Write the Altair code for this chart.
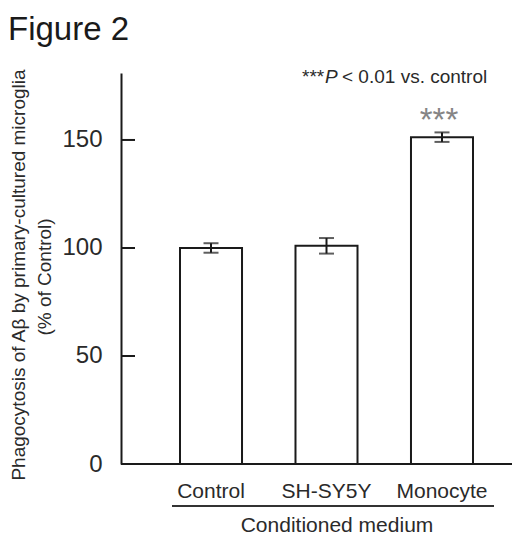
import altair as alt
import pandas as pd

# ---- data ----
categories = ["Control", "SH-SY5Y", "Monocyte"]
means = [100.0, 101.0, 151.3]
errors = [2.2, 3.6, 2.2]
y_ticks = [0, 50, 100, 150]
sig_labels = ["", "", "***"]

fig_title = "Figure 2"
y_title_1 = "Phagocytosis of A\u03b2 by primary-cultured microglia"
y_title_2 = "(% of Control)"
group_label = "Conditioned medium"
note_stars = "***"
note_p = "P"
note_rest = "< 0.01 vs. control"

FONT = "Liberation Sans"
INK = "#1a1a1a"
TXT = "#2a2a2a"

df = pd.DataFrame({
    "cat": categories,
    "mean": means,
    "lo": [m - e for m, e in zip(means, errors)],
    "hi": [m + e for m, e in zip(means, errors)],
    "sig": sig_labels,
})

W, H = 391, 391
xscale = alt.Scale(domain=categories, range=[59, 352], paddingInner=0.463, paddingOuter=0)
yscale = alt.Scale(domain=[0, 181], nice=False, zero=True)

base = alt.Chart(df)

bars = base.mark_bar(fill="white", stroke=INK, strokeWidth=2).encode(
    x=alt.X("cat:N", scale=xscale, sort=categories,
            axis=alt.Axis(title=None, labelAngle=0, ticks=False, tickSize=0,
                          labelFontSize=21, labelColor=TXT, labelPadding=16,
                          domain=False, labelFont=FONT)),
    y=alt.Y("mean:Q", scale=yscale,
            axis=alt.Axis(title=None, values=y_ticks, ticks=False, tickSize=0,
                          grid=False, labelFontSize=24, labelColor=TXT,
                          labelPadding=19, domainColor=INK, domainWidth=2,
                          labelFont=FONT)),
)

baseline = alt.Chart(pd.DataFrame({"z": [0]})).mark_rule(color=INK, strokeWidth=2).encode(
    x=alt.value(0), x2=alt.value(W),
    y=alt.Y("z:Q", scale=yscale),
)

err = base.mark_rule(color=INK, strokeWidth=2).encode(
    x=alt.X("cat:N", scale=xscale, sort=categories),
    y=alt.Y("lo:Q", scale=yscale),
    y2="hi:Q",
)
cap_lo = base.mark_tick(color=INK, size=15, thickness=2).encode(
    x=alt.X("cat:N", scale=xscale, sort=categories),
    y=alt.Y("lo:Q", scale=yscale),
)
cap_hi = base.mark_tick(color=INK, size=15, thickness=2).encode(
    x=alt.X("cat:N", scale=xscale, sort=categories),
    y=alt.Y("hi:Q", scale=yscale),
)
stars = base.mark_text(font=FONT, fontSize=33, color="#858585",
                       baseline="alphabetic", dy=-1, dx=-3).encode(
    x=alt.X("cat:N", scale=xscale, sort=categories),
    y=alt.Y("hi:Q", scale=yscale),
    text="sig:N",
)

ticks = alt.Chart(pd.DataFrame({"t": y_ticks})).mark_rule(color=INK, strokeWidth=2).encode(
    x=alt.value(0), x2=alt.value(14),
    y=alt.Y("t:Q", scale=yscale),
)

underline = alt.Chart(pd.DataFrame({"a": [0]})).mark_rule(color="#333333", strokeWidth=2).encode(
    x=alt.value(51), x2=alt.value(373), y=alt.value(433),
)


def label(txt, x, y, size, align="left", angle=0, style="normal", color=TXT, baseline="alphabetic"):
    return alt.Chart(pd.DataFrame({"t": [txt]})).mark_text(
        font=FONT, fontSize=size, align=align, angle=angle, fontStyle=style,
        color=color, baseline=baseline,
    ).encode(text="t:N", x=alt.value(x), y=alt.value(y))


texts = [
    label(fig_title, -113, -33, 33, color="#1a1a1a"),
    label(y_title_1, -96, 202, 19, align="center", angle=270),
    label(y_title_2, -70, 204, 19, align="center", angle=270),
    label(group_label, 216, 459, 21, align="center"),
    label(note_stars, 181, 10, 19),
    label(note_p, 204, 10, 19, style="italic"),
    label(note_rest, 221, 10, 19),
]

chart = alt.layer(bars, baseline, err, cap_lo, cap_hi, stars, ticks, underline, *texts).properties(
    width=W, height=H,
    autosize=alt.AutoSizeParams(type="none"),
    padding={"left": 113, "top": 65, "right": 0, "bottom": 72},
).configure(font=FONT, background="white").configure_view(stroke=None, strokeWidth=0)

chart.save("out.html", embed_options={"renderer": "svg", "actions": False})
